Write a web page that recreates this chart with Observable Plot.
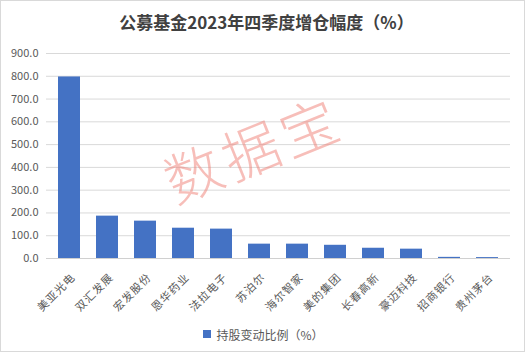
<!DOCTYPE html>
<html>
<head>
<meta charset="utf-8">
<script src="https://cdn.jsdelivr.net/npm/d3@7"></script>
<script src="https://cdn.jsdelivr.net/npm/@observablehq/plot@0.6"></script>
<style>
  html, body { margin: 0; padding: 0; background: #fff; }
  #wrap { position: relative; width: 523px; height: 350px; border: 1px solid #d9d9d9; overflow: hidden; font-family: "Noto Sans CJK SC", sans-serif; }
  #title { height: 40px; line-height: 42px; text-align: center; font-size: 17px; font-weight: bold; color: #404040; padding-left: 8px; }
  #legend { height: 26px; display: flex; align-items: center; justify-content: center; font-size: 12px; color: #595959; padding-left: 2px; }
  #legend .sw { width: 8px; height: 8px; background: #4472C4; margin-right: 5px; }
  #wm { position: absolute; left: 249px; top: 147px; font-size: 57px; font-weight: 300; letter-spacing: 5px; padding-left: 5px; line-height: 1; color: rgba(240,125,115,0.5); transform: translate(-50%, -50%) rotate(-22deg); white-space: nowrap; pointer-events: none; }
  svg text { font-family: "Noto Sans CJK SC", sans-serif; }
  .xlab text { letter-spacing: 1px; }
</style>
</head>
<body>
<div id="wrap">
  <div id="title">公募基金2023年四季度增仓幅度（%）</div>
  <div id="chart"></div>
  <div id="legend"><span class="sw"></span><span>持股变动比例（%）</span></div>
  <div id="wm">数据宝</div>
</div>
<script>
const stocks = ["美亚光电", "双汇发展", "宏发股份", "恩华药业", "法拉电子", "苏泊尔", "海尔智家", "美的集团", "长春高新", "豪迈科技", "招商银行", "贵州茅台"];
const changes = [797, 186, 164, 133, 129, 63, 63, 58, 45, 41, 5, 4];
const yTicks = [0, 100, 200, 300, 400, 500, 600, 700, 800, 900];

const data = stocks.map((s, i) => ({stock: s, value: changes[i]}));

const chart = Plot.plot({
  width: 523,
  height: 280,
  marginTop: 12,
  marginLeft: 45,
  marginRight: 14,
  marginBottom: 63,
  style: {fontSize: "11px", color: "#595959", background: "transparent"},
  x: {domain: stocks, paddingInner: 0.43, paddingOuter: 0.215, label: null, axis: null},
  y: {domain: [0, 900], ticks: yTicks, tickFormat: d => d.toFixed(1), label: null, tickSize: 0, tickPadding: 8},
  marks: [
    Plot.gridY(yTicks.filter(d => d > 0), {stroke: "#d9d9d9", strokeOpacity: 1}),
    Plot.barY(data, {x: "stock", y: "value", fill: "#4472C4"}),
    Plot.ruleY([0], {stroke: "#d0d0d0"}),
    Plot.text(stocks, {x: d => d, y: () => 0, rotate: -45, textAnchor: "end", lineAnchor: "middle", dx: 4, dy: 17, fill: "#595959", fontSize: 11, className: "xlab"})
  ]
});
document.getElementById("chart").appendChild(chart);
</script>
</body>
</html>
